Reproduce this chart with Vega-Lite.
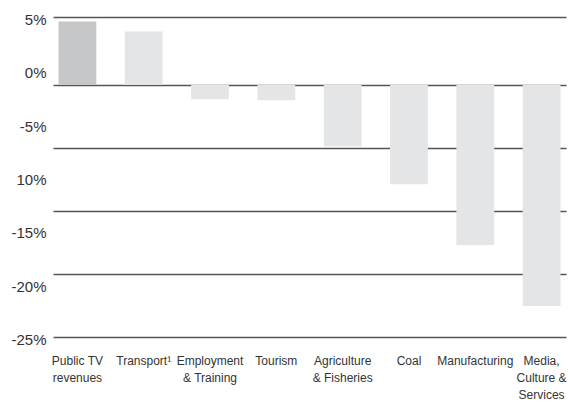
{
  "$schema": "https://vega.github.io/schema/vega-lite/v6.json",
  "width": 513,
  "height": 320,
  "autosize": {"type": "none"},
  "padding": {"left": 53, "top": 17, "right": 2, "bottom": 75},
  "background": "white",
  "config": {"view": {"stroke": null}, "font": "Liberation Sans"},
  "data": {
    "values": [
      {"category": "Public TV revenues", "change": 5.04},
      {"category": "Transport¹", "change": 4.24},
      {"category": "Employment & Training", "change": -1.13},
      {"category": "Tourism", "change": -1.2},
      {"category": "Agriculture & Fisheries", "change": -4.85},
      {"category": "Coal", "change": -7.87},
      {"category": "Manufacturing", "change": -12.7},
      {"category": "Media, Culture & Services", "change": -17.54}
    ]
  },
  "encoding": {
    "x": {
      "field": "category",
      "type": "nominal",
      "sort": null,
      "scale": {"paddingInner": 0.43, "paddingOuter": 0.083},
      "axis": {
        "title": null,
        "domain": false,
        "ticks": false,
        "labelAngle": 0,
        "labelPadding": 18,
        "labelFont": "Liberation Sans",
        "labelFontSize": 12,
        "labelLineHeight": 17,
        "labelColor": "#333333",
        "labelOverlap": false,
        "labelBound": false,
        "labelLimit": 200,
        "labelExpr": "datum.value == 'Public TV revenues' ? ['Public TV', 'revenues'] : datum.value == 'Employment & Training' ? ['Employment', '& Training'] : datum.value == 'Agriculture & Fisheries' ? ['Agriculture', '& Fisheries'] : datum.value == 'Media, Culture & Services' ? ['Media,', 'Culture &', 'Services'] : datum.value"
      }
    }
  },
  "layer": [
    {
      "mark": {"type": "bar"},
      "encoding": {
        "y": {
          "field": "change",
          "type": "quantitative",
          "scale": {"domain": [-20, 5.4], "nice": false, "zero": false},
          "axis": {
            "orient": "left",
            "title": null,
            "values": [5.4, 0, -5, -10, -15, -20],
            "labels": false,
            "ticks": false,
            "domain": false,
            "grid": true,
            "gridColor": "#555555",
            "gridWidth": 1.6
          }
        },
        "color": {
          "condition": {"test": "datum.category == 'Public TV revenues'", "value": "#c6c7c8"},
          "value": "#e4e5e6"
        }
      }
    },
    {
      "mark": {"type": "tick", "opacity": 0},
      "encoding": {
        "y": {
          "field": "change",
          "type": "quantitative",
          "scale": {"domain": [-25, 5], "nice": false},
          "axis": {
            "orient": "left",
            "title": null,
            "values": [5, 0, -5, -10, -15, -20, -25],
            "grid": false,
            "domain": false,
            "ticks": false,
            "labelPadding": 7,
            "labelFont": "Liberation Sans",
            "labelFontSize": 15,
            "labelColor": "#333333",
            "labelOffset": 2.5,
            "labelExpr": "datum.value == -10 ? '10%' : datum.value + '%'"
          }
        }
      }
    }
  ],
  "resolve": {"scale": {"y": "independent"}}
}
